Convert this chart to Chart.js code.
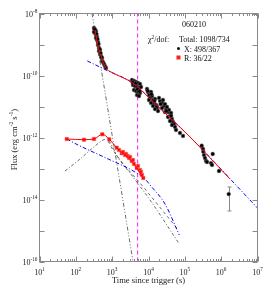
<!DOCTYPE html>
<html>
<head>
<meta charset="utf-8">
<script src="https://cdn.jsdelivr.net/npm/chart.js@4.4.1/dist/chart.umd.min.js"></script>
<style>
html, body { margin: 0; padding: 0; background: #fff; }
canvas { display: block; }
#wrap { position: relative; width: 270px; height: 291px; }
#grb { position: absolute; left: 174px; width: 40px; top: 20px; text-align: center; font: 8px "Liberation Serif", serif; color: #111; line-height: 9px; }
</style>
</head>
<body>
<div id="wrap">
<canvas id="lc" width="270" height="291"></canvas>
<div id="grb">060210</div>
</div>
<script>
// X-ray data (black points)
const xrayTime = [316, 337, 337, 359, 359, 383, 383, 408, 408, 434, 434, 463, 463, 493, 525, 525, 560, 596, 635, 677, 316, 359, 330, 370, 395, 420, 450, 480, 510,
    3516, 3990, 4529, 5140, 5834, 3749, 4256, 4830, 5483, 6223, 3990, 4529, 5140, 5834, 4830, 5483, 3650, 4400, 5000, 5700,
    9099, 9701, 10330, 11010, 11730, 12500, 13310, 14190, 15110, 16110, 17150, 18280, 10330, 11730, 13310, 15110, 9500, 12000, 14500, 17000,
    19460, 20750, 23550, 25060, 26720, 28440, 30340, 32280, 34430, 36640, 39080, 41690, 44360, 47320, 50350, 53700, 57150, 23550, 28440, 34430, 39080, 44360, 21500, 31000, 42000,
    73600, 89100,
    291700, 316000, 322700, 337000, 359000, 383000, 408000, 585000, 526000, 560000, 873000, 1614000];
const xrayFlux = [3.41e-9, 2.94e-9, 2.35e-9, 2.72e-9, 2.02e-9, 1.75e-9, 1.40e-9, 1.20e-9, 9.64e-10, 7.71e-10, 6.17e-10, 6.65e-10, 4.94e-10, 4.26e-10, 3.67e-10, 2.94e-10, 2.72e-10, 2.35e-10, 2.02e-10, 1.75e-10, 2.53e-9, 1.62e-9, 3.1e-9, 2.2e-9, 1.5e-9, 1.05e-9, 7.2e-10, 5.3e-10, 3.9e-10,
    7.16e-11, 6.65e-11, 6.17e-11, 5.73e-11, 5.32e-11, 4.94e-11, 4.58e-11, 4.26e-11, 3.95e-11, 4.26e-11, 3.41e-11, 3.16e-11, 2.94e-11, 2.72e-11, 2.35e-11, 2.18e-11, 6.0e-11, 5.5e-11, 3.6e-11, 3.1e-11,
    3.67e-11, 2.94e-11, 2.35e-11, 1.88e-11, 2.94e-11, 2.18e-11, 1.62e-11, 1.30e-11, 1.75e-11, 1.12e-11, 8.95e-12, 7.16e-12, 1.62e-11, 1.30e-11, 1.04e-11, 8.30e-12, 3.2e-11, 2.5e-11, 1.5e-11, 1.0e-11,
    1.88e-11, 1.50e-11, 1.30e-11, 1.62e-11, 1.04e-11, 1.20e-11, 8.30e-12, 9.64e-12, 6.65e-12, 7.71e-12, 4.94e-12, 6.17e-12, 3.95e-12, 3.16e-12, 2.72e-12, 2.18e-12, 1.75e-12, 8.95e-12, 6.65e-12, 4.58e-12, 3.41e-12, 2.53e-12, 1.2e-11, 7.2e-12, 5.0e-12,
    1.40e-12, 1.12e-12,
    5.44e-13, 4.26e-13, 3.48e-13, 2.72e-13, 2.18e-13, 1.75e-13, 1.62e-13, 2.94e-13, 1.50e-13, 1.30e-13, 8.30e-14, 1.50e-14];
// error bar of the last x-ray point
const errTime = [1614000];
const errLow = [4.26e-15];
const errHigh = [2.53e-14];

// R band data (red)
const rTime = [56.1, 168, 316, 535, 834, 1334, 1542, 1832, 1987, 2256, 2404, 2679, 2908, 3097, 3451, 3749, 3990, 4732, 5140, 5834, 6223, 6622, 7194];
const rFlux = [8.95e-13, 8.5e-13, 8.95e-13, 1.27e-12, 8.75e-13, 4.69e-13, 3.95e-13, 3.09e-13, 3.41e-13, 2.72e-13, 2.94e-13, 2.53e-13, 2.18e-13, 2.35e-13, 1.75e-13, 1.88e-13, 1.40e-13, 1.04e-13, 1.20e-13, 8.95e-14, 7.71e-14, 6.17e-14, 4.94e-14];

// model curves
const xModelTime = [337, 383, 434, 493, 560, 635, 721, 871, 4256, 11010, 139000, 1750000];
const xModelFlux = [2.94e-9, 1.30e-9, 6.65e-10, 4.26e-10, 2.72e-10, 1.95e-10, 1.56e-10, 1.35e-10, 5.13e-11, 1.75e-11, 1.04e-12, 4.55e-14];
const xBlueTime = [207, 635, 4256, 11010, 139000, 1e7];
const xBlueFlux = [2.94e-10, 1.56e-10, 5.13e-11, 1.75e-11, 1.04e-12, 5.32e-15];
const steepTime = [279, 3749];
const steepFlux = [1e-8, 1e-16];
const rModelTime = [56.1, 168, 316, 535, 834, 1334, 2256, 3451, 4732, 7194];
const rModelFlux = [8.95e-13, 8.5e-13, 8.95e-13, 1.27e-12, 8.75e-13, 4.69e-13, 2.72e-13, 1.75e-13, 1.04e-13, 4.94e-14];
const rBlueTime = [56.1, 115, 635, 4256, 8017, 11010, 28440, 70500];
const rBlueFlux = [8.95e-13, 5.73e-13, 2.26e-13, 7.71e-14, 4.58e-14, 2.94e-14, 7.16e-15, 7.16e-16];
const humpTime = [50.3, 130, 337, 560, 721, 990, 1358, 3097, 11010, 70500];
const humpFlux = [8.30e-14, 2.02e-13, 5.32e-13, 8.30e-13, 8.95e-13, 5.32e-13, 2.53e-13, 7.16e-14, 9.64e-15, 3.67e-16];
const dashTime = [767, 1055, 8017, 66200];
const dashFlux = [7.71e-13, 3.95e-13, 2.18e-14, 1.04e-15];
const markTime = 5000;

// axis ticks
const xDecades = [10, 100, 1e3, 1e4, 1e5, 1e6, 1e7];
const xTickExp = [1, 2, 3, 4, 5, 6, 7];
const yDecades = [1e-16, 1e-15, 1e-14, 1e-13, 1e-12, 1e-11, 1e-10, 1e-9, 1e-8];
const yTickExp = [-16, -14, -12, -10, -8];

const serif = '"Liberation Serif", "DejaVu Serif", serif';

function pairs(t, f) {
    return t.map((v, i) => ({ x: v, y: f[i] }));
}

// text made of normal and superscript pieces
function supText(ctx, parts, x, y, size, align) {
    let w = 0;
    parts.forEach(p => {
        ctx.font = (p.sup ? size * 0.66 : size) + 'px ' + serif;
        w += ctx.measureText(p.t).width;
    });
    let left = x;
    if (align === 'center') left = x - w / 2;
    if (align === 'right') left = x - w;
    ctx.textAlign = 'left';
    ctx.textBaseline = 'alphabetic';
    parts.forEach(p => {
        ctx.font = (p.sup ? size * 0.66 : size) + 'px ' + serif;
        ctx.fillText(p.t, left, p.sup ? y - size * 0.42 : y);
        left += ctx.measureText(p.t).width;
    });
}

const axesFrame = {
    id: 'axesFrame',
    afterDatasetsDraw(chart) {
        const { ctx, chartArea: a, scales } = chart;
        ctx.save();
        ctx.strokeStyle = '#8a8a8a';
        ctx.lineWidth = 1;
        ctx.strokeRect(a.left, a.top, a.right - a.left, a.bottom - a.top);
        ctx.beginPath();
        xDecades.forEach((d, i) => {
            const px = Math.round(scales.x.getPixelForValue(d)) + 0.5;
            ctx.moveTo(px, a.bottom); ctx.lineTo(px, a.bottom - 5);
            ctx.moveTo(px, a.top); ctx.lineTo(px, a.top + 5);
            if (i < xDecades.length - 1) {
                for (let m = 2; m < 10; m++) {
                    const mx = Math.round(scales.x.getPixelForValue(d * m)) + 0.5;
                    ctx.moveTo(mx, a.bottom); ctx.lineTo(mx, a.bottom - 2.5);
                    ctx.moveTo(mx, a.top); ctx.lineTo(mx, a.top + 2.5);
                }
            }
        });
        yDecades.forEach(d => {
            const py = Math.round(scales.y.getPixelForValue(d)) + 0.5;
            ctx.moveTo(a.left, py); ctx.lineTo(a.left + 5, py);
            ctx.moveTo(a.right, py); ctx.lineTo(a.right - 5, py);
        });
        ctx.stroke();

        ctx.fillStyle = '#222';
        xTickExp.forEach(e => {
            const px = scales.x.getPixelForValue(Math.pow(10, e));
            supText(ctx, [{ t: '10' }, { t: String(e), sup: true }], px, a.bottom + 13, 8, 'center');
        });
        yTickExp.forEach(e => {
            const py = scales.y.getPixelForValue(Math.pow(10, e));
            supText(ctx, [{ t: '10' }, { t: String(e), sup: true }], a.left - 2, py + 3, 8, 'right');
        });

        // axis titles
        supText(ctx, [{ t: 'Time since trigger (s)' }], (a.left + a.right) / 2, 283, 8.5, 'center');
        ctx.save();
        ctx.translate(17, (a.top + a.bottom) / 2 + 2);
        ctx.rotate(-Math.PI / 2);
        supText(ctx, [{ t: 'Flux (erg cm' }, { t: '-2', sup: true }, { t: ' s' }, { t: '-1', sup: true }, { t: ')' }], 0, 0, 8.5, 'center');
        ctx.restore();

        // fit statistics
        ctx.fillStyle = '#111';
        supText(ctx, [{ t: '\u03c7' }, { t: '2', sup: true }, { t: '/dof:' }], 148, 42, 8, 'left');
        supText(ctx, [{ t: 'Total: 1098/734' }], 179, 42, 8, 'left');
        supText(ctx, [{ t: 'X: 498/367' }], 184, 51.5, 8, 'left');
        supText(ctx, [{ t: 'R: 36/22' }], 184, 60.5, 8, 'left');
        ctx.beginPath();
        ctx.arc(178.5, 48.5, 1.5, 0, Math.PI * 2);
        ctx.fill();
        ctx.fillStyle = '#ff2020';
        ctx.fillRect(176.5, 55.5, 4, 4);
        ctx.restore();
    }
};

const errorBars = {
    id: 'errorBars',
    beforeDatasetsDraw(chart) {
        const { ctx, scales } = chart;
        ctx.save();
        ctx.strokeStyle = '#888';
        ctx.lineWidth = 1;
        ctx.beginPath();
        errTime.forEach((t, i) => {
            const px = Math.round(scales.x.getPixelForValue(t)) + 0.5;
            const y1 = scales.y.getPixelForValue(errLow[i]);
            const y2 = scales.y.getPixelForValue(errHigh[i]);
            ctx.moveTo(px, y1); ctx.lineTo(px, y2);
            ctx.moveTo(px - 2, y1); ctx.lineTo(px + 2, y1);
            ctx.moveTo(px - 2, y2); ctx.lineTo(px + 2, y2);
        });
        ctx.stroke();
        ctx.restore();
    }
};

const lineBase = { showLine: true, pointRadius: 0, fill: false, borderWidth: 1 };

new Chart(document.getElementById('lc').getContext('2d'), {
    type: 'scatter',
    data: {
        datasets: [
            Object.assign({}, lineBase, { label: 'X model', data: pairs(xModelTime, xModelFlux), borderColor: '#ff0000', cubicInterpolationMode: 'monotone', order: 0 }),
            Object.assign({}, lineBase, { label: 'X power law', data: pairs(xBlueTime, xBlueFlux), borderColor: '#0000ff', borderDash: [4, 2, 1, 2], cubicInterpolationMode: 'monotone', order: 1 }),
            { label: 'X', data: pairs(xrayTime, xrayFlux), backgroundColor: '#000', borderColor: '#666', borderWidth: 0.5, pointRadius: 1.9, order: 2 },
            Object.assign({}, lineBase, { label: 'R model', data: pairs(rModelTime, rModelFlux), borderColor: '#ff0000', cubicInterpolationMode: 'monotone', order: 3 }),
            { label: 'R', data: pairs(rTime, rFlux), pointStyle: 'rect', backgroundColor: '#ff1010', borderColor: '#ff6060', borderWidth: 0.5, pointRadius: 2.4, order: 4 },
            Object.assign({}, lineBase, { label: 'R power law', data: pairs(rBlueTime, rBlueFlux), borderColor: '#0000ff', borderDash: [4, 2, 1, 2], cubicInterpolationMode: 'monotone', order: 5 }),
            Object.assign({}, lineBase, { label: 'R hump', data: pairs(humpTime, humpFlux), borderColor: '#444', borderWidth: 0.8, borderDash: [3, 2, 1, 2], cubicInterpolationMode: 'monotone', order: 6 }),
            Object.assign({}, lineBase, { label: 'R dashed', data: pairs(dashTime, dashFlux), borderColor: '#444', borderWidth: 0.8, borderDash: [3, 3], cubicInterpolationMode: 'monotone', order: 7 }),
            Object.assign({}, lineBase, { label: 'X steep', data: pairs(steepTime, steepFlux), borderColor: '#444', borderWidth: 0.8, borderDash: [4, 2, 1, 2, 1, 2], order: 8 }),
            Object.assign({}, lineBase, { label: 'marker', data: [{ x: markTime, y: 1e-16 }, { x: markTime, y: 1e-8 }], borderColor: '#ff33ff', borderWidth: 1.2, borderDash: [4, 3], order: 9 })
        ]
    },
    options: {
        responsive: false,
        animation: false,
        devicePixelRatio: 1,
        layout: { padding: { left: 39.5, right: 12.5, top: 13.5, bottom: 29.5 } },
        scales: {
            x: { type: 'logarithmic', min: 10, max: 1e7, display: false },
            y: { type: 'logarithmic', min: 1e-16, max: 1e-8, display: false }
        },
        plugins: {
            legend: { display: false },
            tooltip: { enabled: false }
        }
    },
    plugins: [errorBars, axesFrame]
});
</script>
</body>
</html>
